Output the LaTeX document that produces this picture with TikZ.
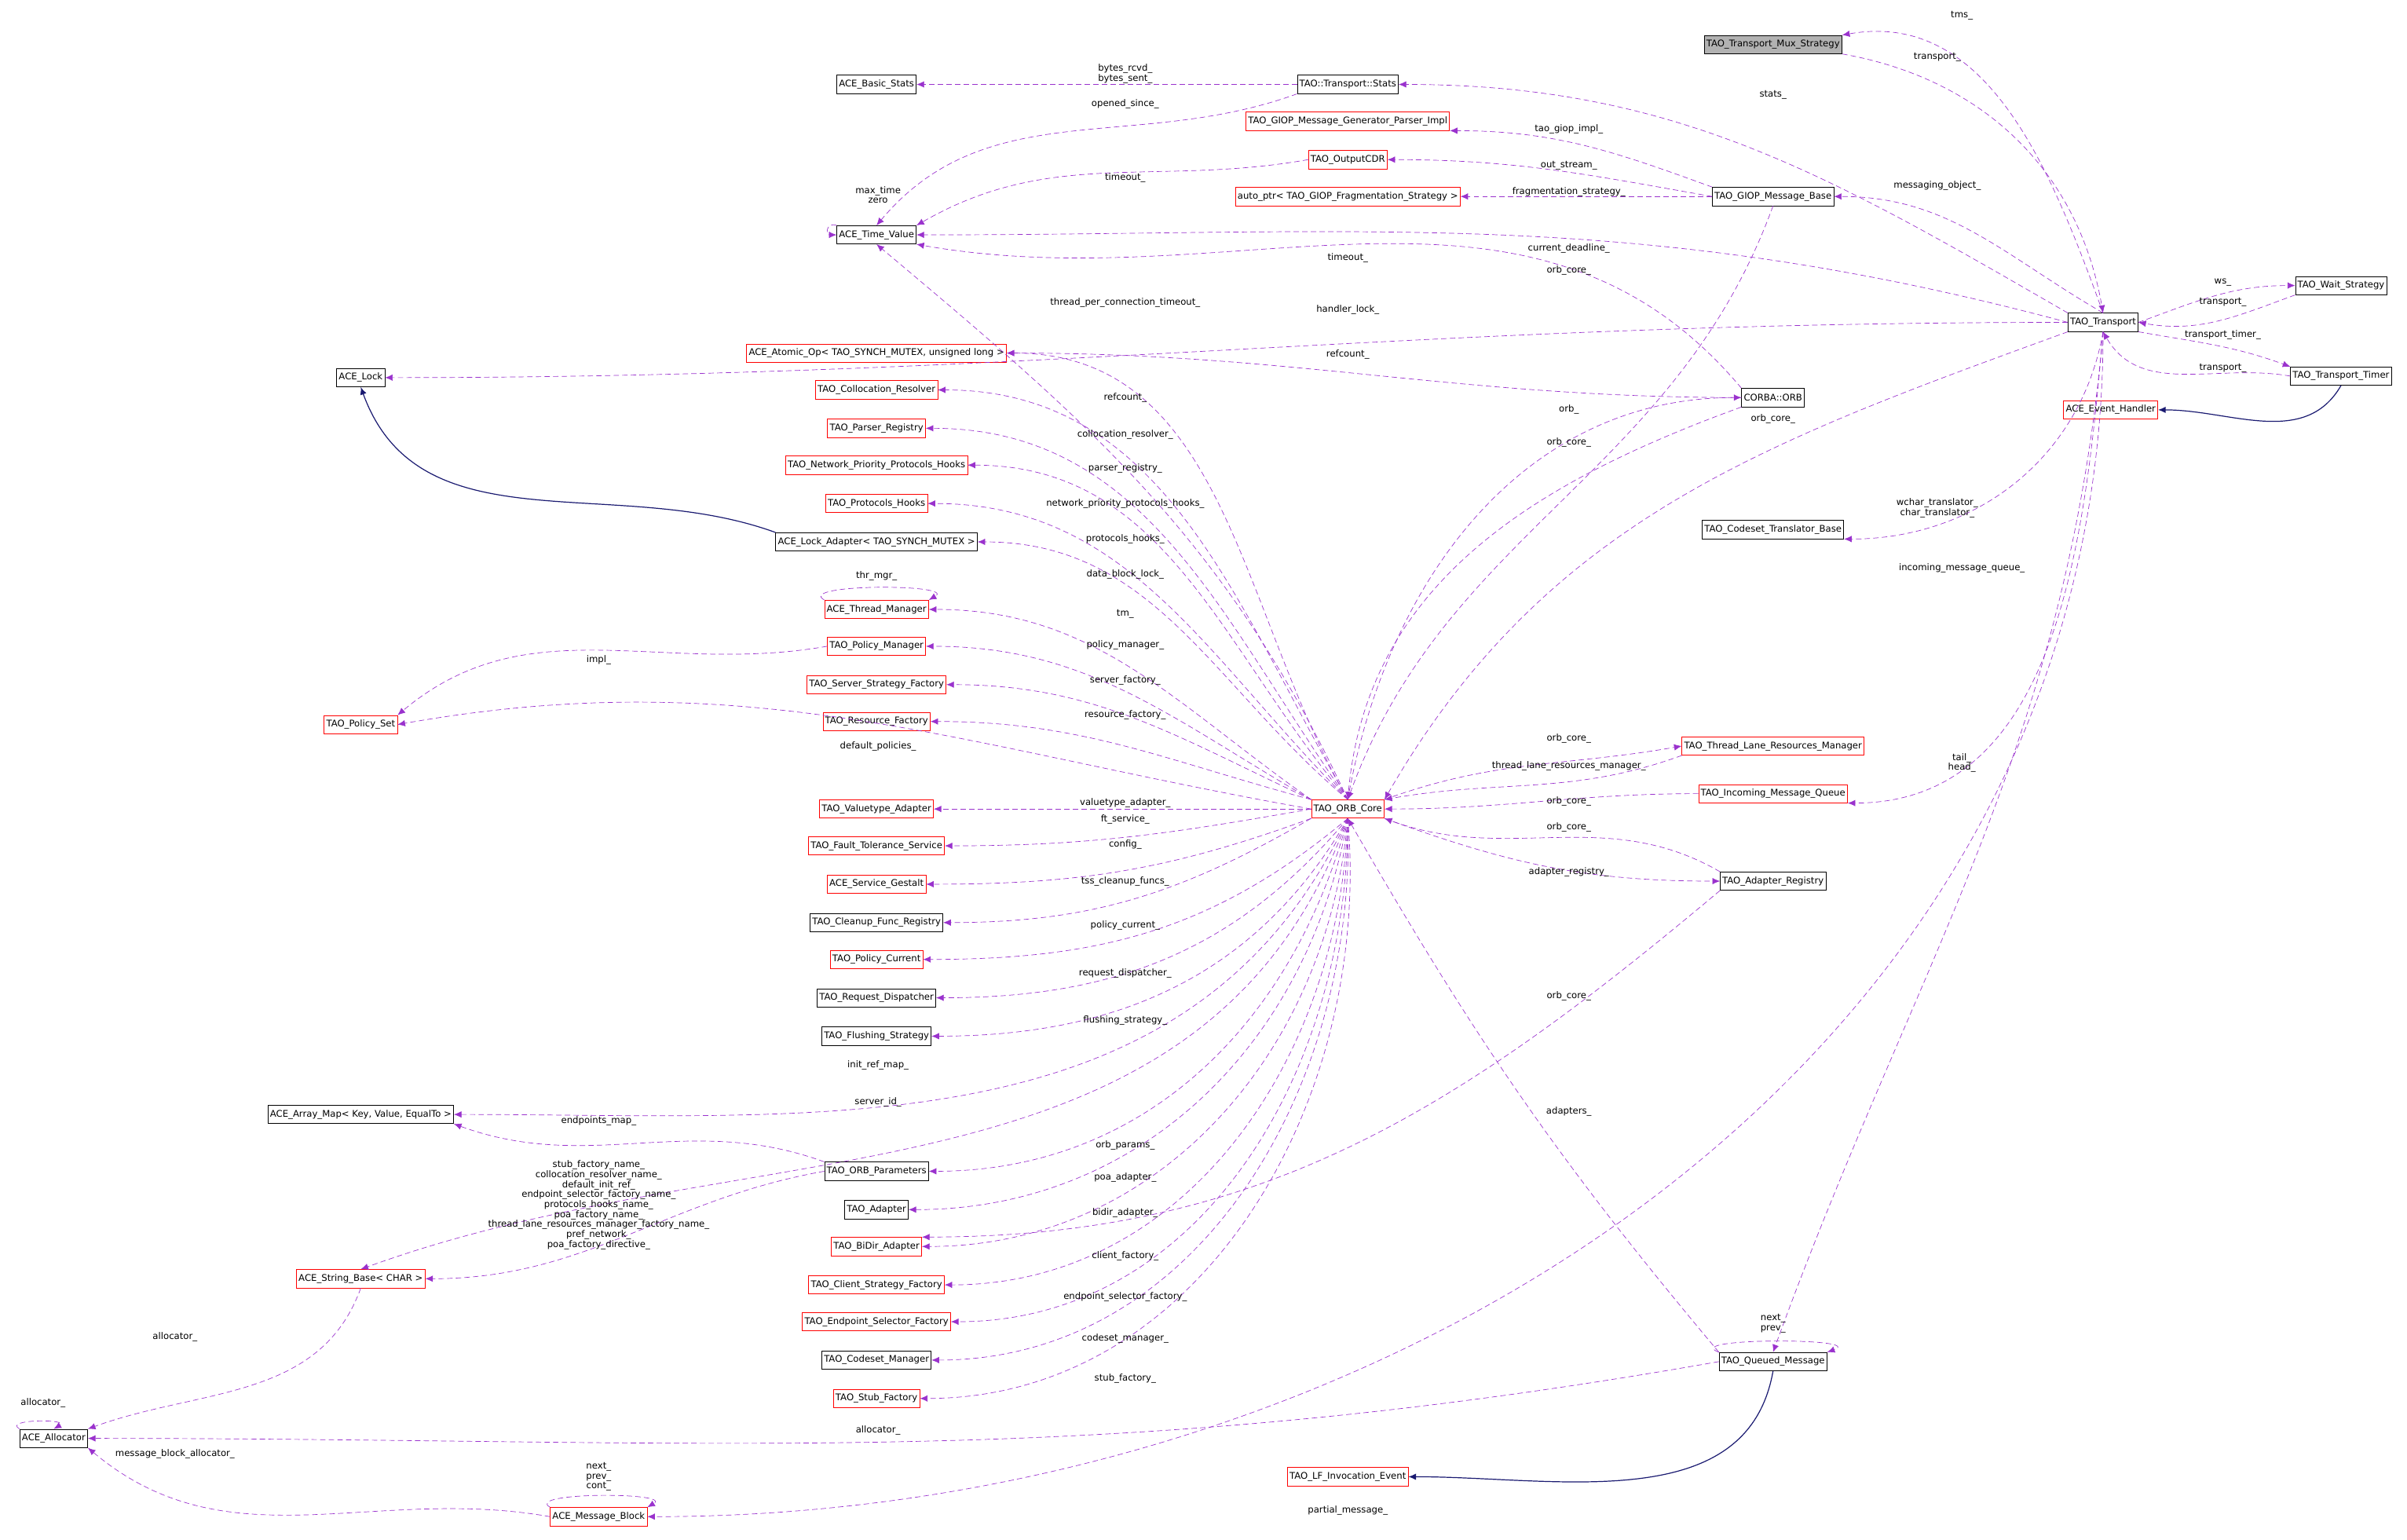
\documentclass[tikz,border=0pt]{standalone}
\usepackage{fontspec}
\setmainfont{DejaVu Sans}
\usetikzlibrary{arrows.meta,positioning}
\definecolor{mem}{HTML}{9A32CD}
\definecolor{inh}{HTML}{191970}
\tikzset{
  cls/.style={draw=black,fill=white,line width=0.2pt,inner sep=0.8pt,minimum height=6.8pt,font=\fontsize{3.4}{4}\selectfont},
  clsr/.style={cls,draw=red},
  lab/.style={font=\fontsize{3.4}{3.7}\selectfont,align=center,inner sep=0pt},
  member/.style={draw=mem,dashed,line width=0.2pt,dash pattern=on 2pt off 1.2pt,-{Latex[length=2.8pt,width=2.4pt]}},
  derive/.style={draw=inh,line width=0.35pt,-{Latex[length=2.8pt,width=2.4pt]}},
}
\begin{document}
\begin{tikzpicture}[x=0.02cm,y=-0.02cm]
\useasboundingbox (0,0) rectangle (1568,1003);
% classes
\node[cls,fill=gray!60] (mux) at (1155,29) {TAO\_Transport\_Mux\_Strategy};
\node[cls] (stats) at (878,55) {TAO::Transport::Stats};
\node[cls] (basic) at (571,55) {ACE\_Basic\_Stats};
\node[clsr] (giopgen) at (878,79) {TAO\_GIOP\_Message\_Generator\_Parser\_Impl};
\node[clsr] (cdr) at (878,104) {TAO\_OutputCDR};
\node[clsr] (autoptr) at (878,128) {auto\_ptr< TAO\_GIOP\_Fragmentation\_Strategy >};
\node[cls] (giopbase) at (1155,128) {TAO\_GIOP\_Message\_Base};
\node[cls] (timev) at (571,153) {ACE\_Time\_Value};
\node[cls] (transport) at (1370,210) {TAO\_Transport};
\node[cls] (wait) at (1525,186) {TAO\_Wait\_Strategy};
\node[cls] (timer) at (1525,245) {TAO\_Transport\_Timer};
\node[clsr] (evh) at (1375,267) {ACE\_Event\_Handler};
\node[cls] (lock) at (235,246) {ACE\_Lock};
\node[clsr] (atomic) at (571,230) {ACE\_Atomic\_Op< TAO\_SYNCH\_MUTEX, unsigned long >};
\node[cls] (orb) at (1155,259) {CORBA::ORB};
\node[clsr] (colres) at (571,254) {TAO\_Collocation\_Resolver};
\node[clsr] (parser) at (571,279) {TAO\_Parser\_Registry};
\node[clsr] (netprio) at (571,303) {TAO\_Network\_Priority\_Protocols\_Hooks};
\node[clsr] (prothooks) at (571,328) {TAO\_Protocols\_Hooks};
\node[cls] (lockad) at (571,353) {ACE\_Lock\_Adapter< TAO\_SYNCH\_MUTEX >};
\node[cls] (codeset) at (1155,345) {TAO\_Codeset\_Translator\_Base};
\node[clsr] (thrmgr) at (571,397) {ACE\_Thread\_Manager};
\node[clsr] (polmgr) at (571,421) {TAO\_Policy\_Manager};
\node[clsr] (polset) at (235,472) {TAO\_Policy\_Set};
\node[clsr] (ssf) at (571,446) {TAO\_Server\_Strategy\_Factory};
\node[clsr] (resf) at (571,470) {TAO\_Resource\_Factory};
\node[clsr] (tlrm) at (1155,486) {TAO\_Thread\_Lane\_Resources\_Manager};
\node[clsr] (imq) at (1155,517) {TAO\_Incoming\_Message\_Queue};
\node[clsr] (core) at (878,527) {TAO\_ORB\_Core};
\node[clsr] (vta) at (571,527) {TAO\_Valuetype\_Adapter};
\node[clsr] (fts) at (571,551) {TAO\_Fault\_Tolerance\_Service};
\node[clsr] (gestalt) at (571,576) {ACE\_Service\_Gestalt};
\node[cls] (cleanup) at (571,601) {TAO\_Cleanup\_Func\_Registry};
\node[cls] (adreg) at (1155,574) {TAO\_Adapter\_Registry};
\node[clsr] (polcur) at (571,625) {TAO\_Policy\_Current};
\node[cls] (reqd) at (571,650) {TAO\_Request\_Dispatcher};
\node[cls] (flush) at (571,675) {TAO\_Flushing\_Strategy};
\node[cls] (arraymap) at (235,726) {ACE\_Array\_Map< Key, Value, EqualTo >};
\node[cls] (orbparams) at (571,763) {TAO\_ORB\_Parameters};
\node[cls] (adapter) at (571,788) {TAO\_Adapter};
\node[clsr] (bidir) at (571,812) {TAO\_BiDir\_Adapter};
\node[clsr] (strbase) at (235,833) {ACE\_String\_Base< CHAR >};
\node[clsr] (csf) at (571,837) {TAO\_Client\_Strategy\_Factory};
\node[clsr] (esf) at (571,861) {TAO\_Endpoint\_Selector\_Factory};
\node[cls] (csmgr) at (571,886) {TAO\_Codeset\_Manager};
\node[cls] (qm) at (1155,887) {TAO\_Queued\_Message};
\node[clsr] (stubf) at (571,911) {TAO\_Stub\_Factory};
\node[cls] (alloc) at (35,937) {ACE\_Allocator};
\node[clsr] (lfie) at (878,962) {TAO\_LF\_Invocation\_Event};
\node[clsr] (mb) at (390,988) {ACE\_Message\_Block};
% inheritance
\draw[derive] (lockad.north west) to[out=160,in=-70] (lock.south);
\draw[derive] (timer.south) to[out=-120,in=0] (evh.east);
\draw[derive] (qm.south) to[out=-100,in=0] (lfie.east);
% members, transport side
\draw[member] (transport.north) to[out=110,in=10] (mux.north east);
\draw[member] (mux.south east) to[out=-10,in=100] (transport.north);
\draw[member] (transport.north west) to[out=150,in=0] (stats.east);
\draw[member] (stats.west) -- (basic.east);
\draw[member] (stats.south west) to[out=200,in=50] (timev.north);
\draw[member] (giopbase.north west) to[out=160,in=0] (giopgen.south east);
\draw[member] (giopbase.west) to[out=170,in=0] (cdr.east);
\draw[member] (giopbase.west) -- (autoptr.east);
\draw[member] (cdr.west) to[out=190,in=30] (timev.north east);
\draw[member] (timev.north west) to[out=160,in=180,looseness=3] (timev.west);
\draw[member] (transport.north) to[out=150,in=0] (giopbase.east);
\draw[member] (transport.west) to[out=165,in=0] (timev.east);
\draw[member] (orb.north west) to[out=130,in=-10] (timev.south east);
\draw[member] (giopbase.south) to[out=-110,in=70] (core.north);
\draw[member] (transport.west) to[out=180,in=0] (lock.east);
\draw[member] (transport.east) to[out=20,in=180] (wait.west);
\draw[member] (wait.south west) to[out=200,in=-10] (transport.east);
\draw[member] (transport.south east) to[out=-10,in=160] (timer.north west);
\draw[member] (timer.west) to[out=170,in=-60] (transport.south);
\draw[member] (transport.south west) to[out=200,in=60] (core.north east);
\draw[member] (transport.south) to[out=-95,in=0] (imq.south east);
\draw[member] (transport.south) to[out=-100,in=0] (codeset.south east);
\draw[member] (transport.south) to[out=-95,in=70] (qm.north);
\draw[member] (transport.south) to[out=-90,in=0] (mb.east);
% members, orb core
\draw[member] (core.north) to[out=120,in=0] (atomic.east);
\draw[member] (orb.west) to[out=180,in=0] (atomic.east);
\draw[member] (core.north) to[out=80,in=180] (orb.west);
\draw[member] (orb.south west) to[out=200,in=85] (core.north);
\draw[member] (core.north) to[out=115,in=-40] (timev.south);
\draw[member] (core.north) to[out=120,in=0] (colres.east);
\draw[member] (core.north) to[out=125,in=0] (parser.east);
\draw[member] (core.north) to[out=130,in=0] (netprio.east);
\draw[member] (core.north) to[out=135,in=0] (prothooks.east);
\draw[member] (core.north) to[out=140,in=0] (lockad.east);
\draw[member] (core.north west) to[out=145,in=0] (thrmgr.east);
\draw[member] (thrmgr.north west) to[out=150,in=30,looseness=0.8] (thrmgr.north east);
\draw[member] (core.north west) to[out=150,in=0] (polmgr.east);
\draw[member] (polmgr.west) to[out=190,in=40] (polset.north east);
\draw[member] (core.north west) to[out=155,in=0] (ssf.east);
\draw[member] (core.north west) to[out=165,in=0] (resf.east);
\draw[member] (core.west) to[out=170,in=10] (polset.east);
\draw[member] (tlrm.south west) to[out=200,in=10] (core.north east);
\draw[member] (core.north east) to[out=20,in=190] (tlrm.west);
\draw[member] (imq.west) to[out=180,in=0] (core.east);
\draw[member] (adreg.north west) to[out=150,in=-20] (core.south east);
\draw[member] (core.south east) to[out=-20,in=180] (adreg.west);
\draw[member] (core.west) -- (vta.east);
\draw[member] (core.west) to[out=190,in=0] (fts.east);
\draw[member] (core.south west) to[out=200,in=0] (gestalt.east);
\draw[member] (core.south west) to[out=210,in=0] (cleanup.east);
\draw[member] (core.south) to[out=220,in=0] (polcur.east);
\draw[member] (core.south) to[out=230,in=0] (reqd.east);
\draw[member] (core.south) to[out=240,in=0] (flush.east);
\draw[member] (core.south) to[out=245,in=0] (arraymap.east);
\draw[member] (core.south) to[out=250,in=20] (strbase.north);
\draw[member] (core.south) to[out=255,in=0] (orbparams.east);
\draw[member] (core.south) to[out=260,in=0] (adapter.east);
\draw[member] (core.south) to[out=265,in=0] (bidir.east);
\draw[member] (core.south) to[out=268,in=0] (csf.east);
\draw[member] (core.south) to[out=270,in=0] (esf.east);
\draw[member] (core.south) to[out=272,in=0] (csmgr.east);
\draw[member] (core.south) to[out=275,in=0] (stubf.east);
\draw[member] (adreg.south west) to[out=220,in=0] (bidir.north east);
\draw[member] (orbparams.north west) to[out=160,in=-20] (arraymap.south east);
\draw[member] (orbparams.west) to[out=190,in=0] (strbase.east);
\draw[member] (qm.north west) to[out=130,in=-60] (core.south);
\draw[member] (qm.north west) to[out=160,in=20,looseness=1] (qm.north east);
\draw[member] (qm.west) to[out=190,in=0] (alloc.east);
\draw[member] (strbase.south) to[out=-110,in=20] (alloc.north east);
\draw[member] (alloc.north west) to[out=150,in=30,looseness=1.5] (alloc.north);
\draw[member] (mb.west) to[out=170,in=-40] (alloc.south east);
\draw[member] (mb.north west) to[out=150,in=30,looseness=0.8] (mb.north east);
% labels
\node[lab] (l1) at (1278,10) {tms\_};
\node[lab] (l2) at (1262,37) {transport\_};
\node[lab] (l3) at (1155,62) {stats\_};
\node[lab] (l4) at (733,48) {bytes\_rcvd\_\\bytes\_sent\_};
\node[lab] (l5) at (733,68) {opened\_since\_};
\node[lab] (l6) at (1022,84) {tao\_giop\_impl\_};
\node[lab] (l7) at (1022,108) {out\_stream\_};
\node[lab] (l8) at (1022,125) {fragmentation\_strategy\_};
\node[lab] (l9) at (733,116) {timeout\_};
\node[lab] (l10) at (572,127) {max\_time\\zero};
\node[lab] (l11) at (1262,121) {messaging\_object\_};
\node[lab] (l12) at (1022,162) {current\_deadline\_};
\node[lab] (l13) at (878,168) {timeout\_};
\node[lab] (l14) at (1022,176) {orb\_core\_};
\node[lab] (l15) at (733,197) {thread\_per\_connection\_timeout\_};
\node[lab] (l16) at (878,202) {handler\_lock\_};
\node[lab] (l17) at (1448,184) {ws\_};
\node[lab] (l18) at (1448,197) {transport\_};
\node[lab] (l19) at (1448,218) {transport\_timer\_};
\node[lab] (l20) at (1448,240) {transport\_};
\node[lab] (l21) at (878,231) {refcount\_};
\node[lab] (l22) at (733,259) {refcount\_};
\node[lab] (l23) at (1022,267) {orb\_};
\node[lab] (l24) at (1022,288) {orb\_core\_};
\node[lab] (l25) at (1155,273) {orb\_core\_};
\node[lab] (l26) at (733,283) {collocation\_resolver\_};
\node[lab] (l27) at (733,305) {parser\_registry\_};
\node[lab] (l28) at (733,328) {network\_priority\_protocols\_hooks\_};
\node[lab] (l29) at (733,351) {protocols\_hooks\_};
\node[lab] (l30) at (733,374) {data\_block\_lock\_};
\node[lab] (l31) at (571,375) {thr\_mgr\_};
\node[lab] (l32) at (733,400) {tm\_};
\node[lab] (l33) at (733,420) {policy\_manager\_};
\node[lab] (l34) at (390,430) {impl\_};
\node[lab] (l35) at (733,443) {server\_factory\_};
\node[lab] (l36) at (733,466) {resource\_factory\_};
\node[lab] (l37) at (572,486) {default\_policies\_};
\node[lab] (l38) at (1262,331) {wchar\_translator\_\\char\_translator\_};
\node[lab] (l39) at (1278,370) {incoming\_message\_queue\_};
\node[lab] (l40) at (1022,481) {orb\_core\_};
\node[lab] (l41) at (1022,499) {thread\_lane\_resources\_manager\_};
\node[lab] (l42) at (1022,522) {orb\_core\_};
\node[lab] (l43) at (1022,539) {orb\_core\_};
\node[lab] (l44) at (1022,568) {adapter\_registry\_};
\node[lab] (l45) at (1278,497) {tail\_\\head\_};
\node[lab] (l46) at (733,523) {valuetype\_adapter\_};
\node[lab] (l47) at (733,534) {ft\_service\_};
\node[lab] (l48) at (733,550) {config\_};
\node[lab] (l49) at (733,574) {tss\_cleanup\_funcs\_};
\node[lab] (l50) at (733,603) {policy\_current\_};
\node[lab] (l51) at (733,634) {request\_dispatcher\_};
\node[lab] (l52) at (733,665) {flushing\_strategy\_};
\node[lab] (l53) at (572,694) {init\_ref\_map\_};
\node[lab] (l54) at (572,718) {server\_id\_};
\node[lab] (l55) at (390,730) {endpoints\_map\_};
\node[lab] (l56) at (390,785) {stub\_factory\_name\_\\collocation\_resolver\_name\_\\default\_init\_ref\_\\endpoint\_selector\_factory\_name\_\\protocols\_hooks\_name\_\\poa\_factory\_name\_\\thread\_lane\_resources\_manager\_factory\_name\_\\pref\_network\_\\poa\_factory\_directive\_};
\node[lab] (l57) at (733,746) {orb\_params\_};
\node[lab] (l58) at (733,767) {poa\_adapter\_};
\node[lab] (l59) at (733,790) {bidir\_adapter\_};
\node[lab] (l60) at (733,818) {client\_factory\_};
\node[lab] (l61) at (733,845) {endpoint\_selector\_factory\_};
\node[lab] (l62) at (733,872) {codeset\_manager\_};
\node[lab] (l63) at (733,898) {stub\_factory\_};
\node[lab] (l64) at (1022,724) {adapters\_};
\node[lab] (l65) at (1022,649) {orb\_core\_};
\node[lab] (l66) at (1155,862) {next\_\\prev\_};
\node[lab] (l67) at (572,932) {allocator\_};
\node[lab] (l68) at (114,871) {allocator\_};
\node[lab] (l69) at (28,914) {allocator\_};
\node[lab] (l70) at (114,947) {message\_block\_allocator\_};
\node[lab] (l71) at (390,962) {next\_\\prev\_\\cont\_};
\node[lab] (l72) at (878,984) {partial\_message\_};
\end{tikzpicture}
\end{document}
